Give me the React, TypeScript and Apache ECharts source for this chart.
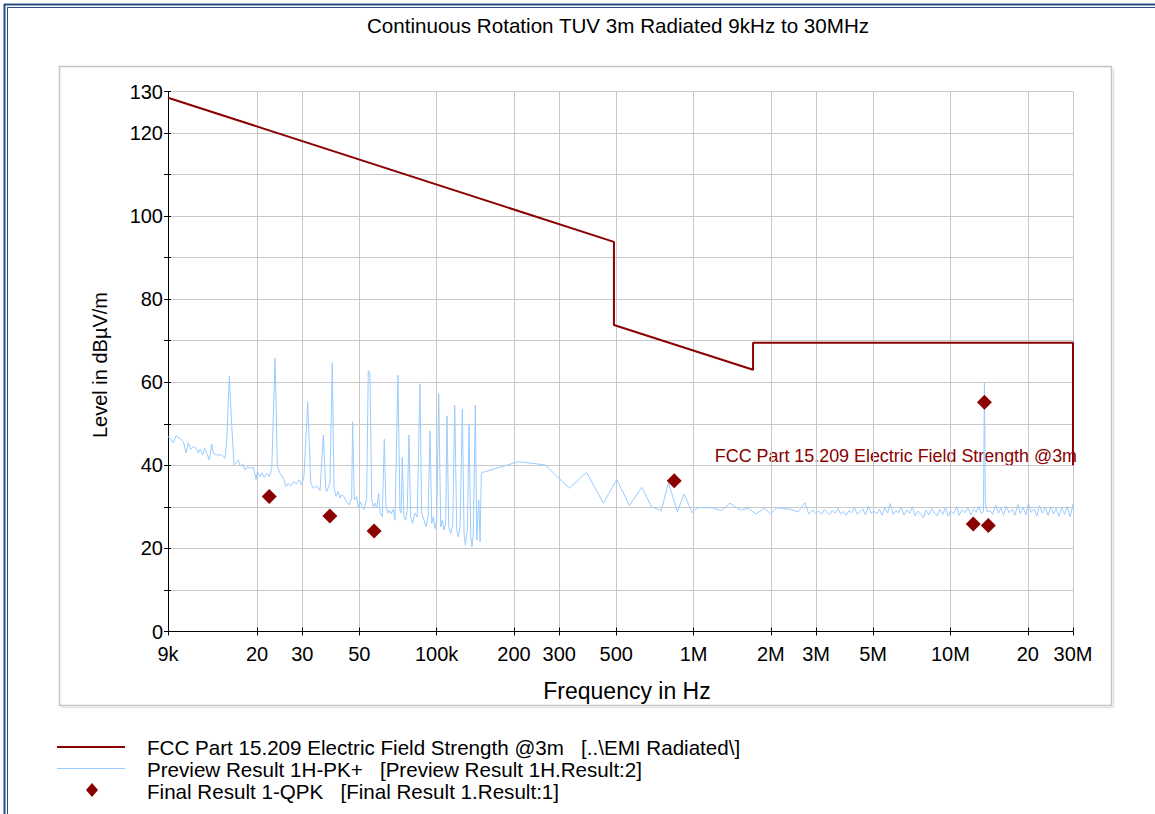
import React, { useEffect, useRef } from 'react';
import * as echarts from 'echarts';

const FONT = '"Liberation Sans", Arial, Helvetica, sans-serif';
const TITLE = 'Continuous Rotation TUV 3m Radiated 9kHz to 30MHz';
const X_NAME = 'Frequency in Hz';
const Y_NAME = 'Level in dBµV/m';
const LIMIT_LABEL = 'FCC Part 15.209 Electric Field Strength @3m';
const SERIES_NAMES = [
  'FCC Part 15.209 Electric Field Strength @3m',
  'Preview Result 1H-PK+',
  'Final Result 1-QPK',
];
const LEGEND_SUFFIX = ['[..\\EMI Radiated\\]', '[Preview Result 1H.Result:2]', '[Final Result 1.Result:1]'];

const xTickValues = [9e3, 2e4, 3e4, 5e4, 1e5, 2e5, 3e5, 5e5, 1e6, 2e6, 3e6, 5e6, 1e7, 2e7, 3e7];
const xTickLabels = ['9k', '20', '30', '50', '100k', '200', '300', '500', '1M', '2M', '3M', '5M', '10M', '20', '30M'];
const yLabelValues = [0, 20, 40, 60, 80, 100, 120, 130];

const limitFreq = [9e3, 4.9e5, 4.9e5, 1.705e6, 1.705e6, 3e7, 3e7];
const limitLevel = [128.5, 93.8, 73.8, 63.0, 69.5, 69.5, 40.0];

const finalFreq = [22300, 38400, 57100, 841000, 12270000, 13560000, 14040000];
const finalLevel = [32.5, 27.8, 24.2, 36.3, 25.9, 55.2, 25.5];

const previewFreq = [
  9000, 9163, 9436, 9672, 10030, 10330, 10580, 10800, 11030, 11290, 11570, 11810, 12000, 12290, 12480, 12740,
  13040, 13320, 13520, 13940, 14570, 15010, 15240, 15600, 15940, 16270, 16570, 16910, 17170, 17590, 17960, 18330,
  18780, 19350, 19820, 20050, 20550, 20860, 21290, 21810, 22330, 22810, 23500, 23990, 24560, 25310, 25920, 26460,
  27030, 27670, 28520, 29190, 29830, 30450, 31490, 32350, 33110, 34130, 35150, 36210, 36990, 37320, 38440, 39240,
  39840, 40560, 41410, 42040, 42690, 43580, 44640, 45690, 46680, 47100, 47790, 48830, 49530, 50610, 51530, 52270,
  53400, 54180, 55010, 55850, 56660, 57540, 58420, 59480, 60170, 61430, 62540, 63500, 64470, 65390, 66390, 67780,
  68820, 70690, 71970, 72800, 73460, 74590, 75740, 76830, 78010, 79210, 80640, 82330, 84040, 86090, 87430, 89310,
  90910, 92560, 94240, 95680, 97060, 98550, 100060, 101880, 103730, 105220, 106850, 108490, 109750, 111450, 113450, 115510,
  117600, 119730, 121470, 123330, 125910, 127840, 129350, 131690, 133710, 135760, 137360, 138950, 141470, 143270, 145860, 147550,
  149290, 208000, 264400, 328500, 383200, 445900, 502800, 563000, 628700, 687000, 748600, 799100, 864800, 919800, 985500, 1037700,
  1178000, 1284000, 1385000, 1524000, 1633000, 1750000, 1886000, 1993000, 2112000, 2382000, 2552000, 2715000, 2809000,
  2850000, 2920000, 2990000, 3070000, 3150000, 3230000, 3310000, 3390000, 3470000, 3560000, 3650000, 3740000, 3830000,
  3930000, 4030000, 4130000, 4230000, 4340000, 4450000, 4560000, 4670000, 4790000, 4910000, 5030000, 5160000, 5290000,
  5420000, 5550000, 5690000, 5830000, 5980000, 6130000, 6280000, 6440000, 6600000, 6770000, 6930000, 7110000, 7290000,
  7470000, 7650000, 7850000, 8040000, 8240000, 8450000, 8660000, 8880000, 9100000, 9330000, 9560000, 9800000, 10000000,
  10300000, 10600000, 10800000, 11100000, 11400000, 11700000, 12000000, 12300000, 12600000, 12900000, 13200000, 13450000,
  13560000, 13670000, 13900000, 14300000, 14600000, 15000000, 15400000, 15700000, 16100000, 16500000, 16900000, 17400000,
  17800000, 18300000, 18700000, 19200000, 19700000, 20100000, 20600000, 21200000, 21700000, 22200000, 22800000, 23400000,
  24000000, 24600000, 25200000, 25800000, 26400000, 27100000, 27800000, 28500000, 29200000, 29700000, 30000000,
];
const previewLevel = [
  46.9, 46.5, 45.4, 47.1, 46.5, 45.7, 43.0, 45.4, 43.9, 44.5, 44.1, 43.0, 43.9, 42.5, 44.1, 42.9,
  41.3, 45.1, 42.9, 42.5, 42.5, 41.7, 46.1, 61.5, 49.3, 40.1, 40.6, 41.3, 39.8, 40.3, 38.9, 39.7,
  39.3, 39.5, 36.6, 38.5, 37.3, 38.2, 37.1, 38.1, 37.3, 39.3, 65.8, 39.7, 38.1, 36.9, 34.9, 35.7,
  35.0, 36.1, 35.5, 36.5, 35.3, 37.4, 55.2, 35.7, 34.5, 35.0, 33.9, 47.3, 34.5, 33.7, 35.7, 64.7,
  34.9, 32.5, 33.7, 32.1, 32.9, 32.5, 31.2, 30.5, 32.1, 50.5, 31.7, 32.5, 30.0, 31.2, 29.7, 29.4,
  32.1, 62.8, 62.2, 31.7, 30.0, 30.9, 29.7, 33.3, 28.8, 27.6, 46.3, 30.0, 28.5, 29.2, 28.3, 29.4,
  26.8, 61.7, 29.2, 28.5, 41.9, 27.6, 26.8, 29.2, 47.3, 27.6, 26.0, 28.5, 27.6, 59.6, 28.5, 26.8,
  25.2, 27.6, 48.3, 26.0, 27.6, 24.8, 26.8, 57.2, 25.2, 26.8, 24.4, 26.0, 51.9, 25.2, 23.6, 25.6,
  54.5, 24.4, 22.8, 25.2, 53.5, 23.6, 20.8, 24.4, 50.0, 22.8, 20.4, 23.6, 54.5, 22.0, 31.7, 21.6,
  38.2, 40.9, 40.1, 34.5, 38.3, 30.9, 36.6, 30.3, 34.7, 30.0, 29.1, 35.8, 28.8, 33.1, 28.6, 29.8,
  29.8, 29.1, 30.9, 29.2, 29.7, 28.3, 29.7, 28.3, 29.8, 29.4, 28.8, 31.0, 28.3,
  28.6, 29.3, 28.4, 29.0, 28.2, 29.4, 28.7, 28.1, 29.2, 28.5, 29.6, 28.3, 28.9,
  28.0, 29.1, 28.6, 29.8, 28.2, 28.8, 29.5, 28.1, 30.2, 28.4, 29.0, 28.3, 29.4,
  28.0, 29.7, 28.5, 30.8, 28.2, 29.1, 28.6, 29.9, 28.0, 29.3, 28.4, 30.0, 27.8,
  29.0, 28.3, 27.4, 29.2, 28.1, 29.6, 28.5, 27.9, 29.4, 28.2, 29.8, 27.8, 29.0,
  28.4, 30.1, 27.9, 29.3, 28.6, 29.9, 28.0, 29.5, 28.7, 30.2, 28.4, 29.0,
  59.8, 30.9, 28.8, 29.1, 28.2, 30.4, 28.5, 29.7, 28.0, 30.2, 28.6, 29.4,
  27.9, 30.6, 28.4, 29.8, 28.1, 30.9, 28.7, 29.5, 27.8, 30.3, 28.5, 29.9,
  27.9, 30.0, 28.3, 29.6, 27.7, 29.8, 28.2, 30.1, 27.6, 29.3, 30.8,
];

const RED = '#8b0000';
const BLUE = '#99ccff';
const GRID_GRAY = '#c8c8c8';

function xLabel(v: number): string {
  const i = xTickValues.findIndex((t) => Math.abs(t - v) / t < 1e-6);
  return i >= 0 ? xTickLabels[i] : '';
}

function txt(text: string, x: number, y: number, size: number, align: string, vAlign: string, fill = '#000', rotation = 0) {
  return {
    type: 'text',
    x,
    y,
    rotation,
    silent: true,
    style: {
      text,
      fill,
      fontSize: size,
      fontFamily: FONT,
      align,
      verticalAlign: vAlign,
      textAlign: align,
      textVerticalAlign: vAlign,
    },
  };
}

export default function App() {
  const ref = useRef<HTMLDivElement>(null);

  useEffect(() => {
    if (!ref.current) return;
    const chart = echarts.init(ref.current, null, { renderer: 'svg' });

    const limitData = limitFreq.map((f, i) => [f, limitLevel[i]]);
    const previewData = previewFreq.map((f, i) => [f, previewLevel[i]]);
    const finalData = finalFreq.map((f, i) => [f, finalLevel[i]]);

    const axisBlack = { color: '#000', width: 1 };

    const option: any = {
      animation: false,
      backgroundColor: '#ffffff',
      grid: { left: 168, top: 91.5, width: 905, height: 540, containLabel: false },
      xAxis: [
        {
          type: 'log',
          logBase: 10,
          min: 9000,
          max: 3e7,
          axisLine: { show: true, onZero: false, lineStyle: axisBlack },
          axisTick: { show: true, customValues: xTickValues, length: 4, lineStyle: axisBlack },
          axisLabel: {
            show: true,
            customValues: xTickValues,
            formatter: (v: number) => xLabel(v),
            fontSize: 20,
            fontFamily: FONT,
            color: '#000',
            margin: 12,
            hideOverlap: false,
          },
          splitLine: { show: true, lineStyle: { color: GRID_GRAY, width: 1 } },
          minorTick: { show: false },
          minorSplitLine: { show: false },
        },
        {
          type: 'log',
          logBase: 10,
          min: 9000,
          max: 3e7,
          position: 'bottom',
          axisLine: { show: false, onZero: false },
          axisTick: { show: true, inside: true, customValues: xTickValues, length: 4, lineStyle: axisBlack },
          axisLabel: { show: false },
          splitLine: { show: false },
        },
      ],
      yAxis: [
        {
          type: 'value',
          min: 0,
          max: 130,
          interval: 10,
          axisLine: { show: true, onZero: false, lineStyle: axisBlack },
          axisTick: { show: true, length: 4, lineStyle: axisBlack },
          axisLabel: {
            show: true,
            formatter: (v: number) => (yLabelValues.indexOf(v) >= 0 ? String(v) : ''),
            fontSize: 20,
            fontFamily: FONT,
            color: '#000',
            margin: 5,
          },
          splitLine: { show: true, lineStyle: { color: GRID_GRAY, width: 1 } },
        },
        {
          type: 'value',
          min: 0,
          max: 130,
          interval: 10,
          position: 'left',
          axisLine: { show: false, onZero: false },
          axisTick: { show: true, inside: true, length: 3, lineStyle: axisBlack },
          axisLabel: { show: false },
          splitLine: { show: false },
        },
      ],
      series: [
        {
          name: SERIES_NAMES[1],
          type: 'line',
          data: previewData,
          xAxisIndex: 0,
          yAxisIndex: 0,
          symbol: 'none',
          lineStyle: { color: BLUE, width: 1 },
          z: 2,
        },
        {
          name: SERIES_NAMES[0],
          type: 'line',
          data: limitData,
          xAxisIndex: 0,
          yAxisIndex: 0,
          symbol: 'none',
          lineStyle: { color: RED, width: 2 },
          z: 3,
        },
        {
          name: SERIES_NAMES[2],
          type: 'scatter',
          data: finalData,
          xAxisIndex: 0,
          yAxisIndex: 0,
          symbol: 'diamond',
          symbolSize: 15,
          itemStyle: { color: RED, opacity: 1 },
          z: 4,
        },
      ],
      graphic: [
        // window frame (left/top double border)
        { type: 'line', silent: true, shape: { x1: 4.5, y1: 4, x2: 4.5, y2: 814 }, style: { stroke: '#2b4c83', lineWidth: 2 } },
        { type: 'line', silent: true, shape: { x1: 7.5, y1: 7, x2: 7.5, y2: 814 }, style: { stroke: '#2b4c83', lineWidth: 1 } },
        { type: 'line', silent: true, shape: { x1: 4, y1: 4.5, x2: 1155, y2: 4.5 }, style: { stroke: '#2b4c83', lineWidth: 2 } },
        { type: 'line', silent: true, shape: { x1: 7, y1: 7.5, x2: 1155, y2: 7.5 }, style: { stroke: '#2b4c83', lineWidth: 1 } },
        // panel
        { type: 'rect', silent: true, z: -10, shape: { x: 59.5, y: 66.5, width: 1052, height: 639 }, style: { fill: 'none', stroke: '#c4c4c4', lineWidth: 1.5 } },
        { type: 'line', silent: true, z: -10, shape: { x1: 1113.5, y1: 68, x2: 1113.5, y2: 708 }, style: { stroke: '#e2e2e2', lineWidth: 1.5 } },
        { type: 'line', silent: true, z: -10, shape: { x1: 61, y1: 707.5, x2: 1114, y2: 707.5 }, style: { stroke: '#e2e2e2', lineWidth: 1.5 } },
        // texts
        txt(TITLE, 618, 25, 20.6, 'center', 'middle'),
        txt(X_NAME, 627, 691, 23, 'center', 'middle'),
        txt(Y_NAME, 100, 365, 20, 'center', 'middle', '#000', Math.PI / 2),
        txt(LIMIT_LABEL, 1077, 456, 17.9, 'right', 'middle', RED),
        // legend
        { type: 'line', silent: true, shape: { x1: 57, y1: 747, x2: 125, y2: 747 }, style: { stroke: RED, lineWidth: 2 } },
        { type: 'line', silent: true, shape: { x1: 57, y1: 768.5, x2: 125, y2: 768.5 }, style: { stroke: BLUE, lineWidth: 1 } },
        {
          type: 'polygon',
          silent: true,
          shape: { points: [[92, 783], [98, 790], [92, 797], [86, 790]] },
          style: { fill: RED },
        },
        txt(SERIES_NAMES[0] + '   ' + LEGEND_SUFFIX[0], 147, 747, 20.6, 'left', 'middle'),
        txt(SERIES_NAMES[1] + '   ' + LEGEND_SUFFIX[1], 147, 769, 20.6, 'left', 'middle'),
        txt(SERIES_NAMES[2] + '   ' + LEGEND_SUFFIX[2], 147, 791, 20.6, 'left', 'middle'),
      ],
    };

    chart.setOption(option);
    return () => {
      chart.dispose();
    };
  }, []);

  return (
    <div
      ref={ref}
      style={{ position: 'fixed', left: 0, top: 0, width: 1155, height: 814, background: '#fff' }}
    />
  );
}
